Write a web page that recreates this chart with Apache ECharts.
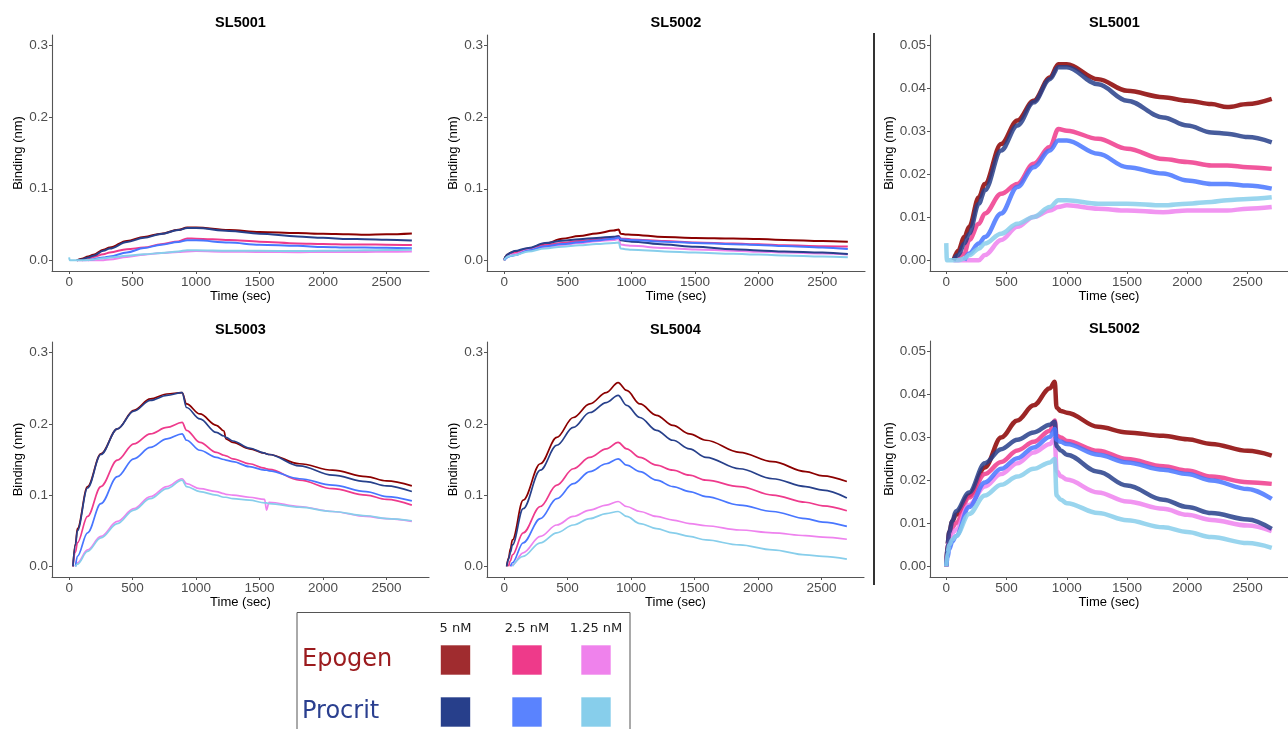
<!DOCTYPE html>
<html>
<head>
<meta charset="utf-8">
<script src="https://cdn.jsdelivr.net/npm/echarts@6/dist/echarts.min.js"></script>
<style>html,body{margin:0;padding:0;background:#fff}#c{width:1288px;height:729px}</style>
</head>
<body>
<div id="c"></div>
<script>
// ---- categories / labels ----
const drugs = ['Epogen', 'Procrit'];
const concs = ['5 nM', '2.5 nM', '1.25 nM'];
const panelTitles = ['SL5001', 'SL5002', 'SL5001', 'SL5003', 'SL5004', 'SL5002'];
const xTicks = [0, 500, 1000, 1500, 2000, 2500];
const yTicksBig = [0, 0.1, 0.2, 0.3];
const yTicksSmall = [0, 0.01, 0.02, 0.03, 0.04, 0.05];

// ---- colours (Epogen 5, 2.5, 1.25 ; Procrit 5, 2.5, 1.25) ----
const lineColors = ['#8b0000', '#ee3a8c', '#ee82ee', '#27408b', '#4876ff', '#87ceeb'];
const swatchColors = ['#a02c2f', '#ee3a8a', '#ef82ec', '#273f8b', '#5a83fe', '#87ceeb'];
const drugColors = ['#9b1b1e', '#2a3f8f'];

// ---- SL5001 ----
const T5001 = [0,5,60,100,150,190,270,320,455,590,725,860,930,1000,1260,1500,1800,2000,2200,2330,2500,2700];
const SL5001_E5   = [null,null,0,0.0023,0.0054,0.0078,0.0147,0.0178,0.0271,0.0326,0.0372,0.0426,0.0457,0.0457,0.0422,0.0395,0.038,0.0372,0.0364,0.0357,0.0364,0.0376];
const SL5001_E25  = [null,null,null,0,0.0016,0.0047,0.0085,0.0109,0.0155,0.0178,0.0225,0.0264,0.0306,0.0302,0.0283,0.026,0.0236,0.0229,0.0221,0.0221,0.0217,0.0213];
const SL5001_E125 = [null,null,0,0,0,0,0,0.0012,0.0047,0.0078,0.0101,0.0116,0.0124,0.0128,0.012,0.0116,0.0112,0.0116,0.0116,0.0116,0.012,0.0124];
const SL5001_P5   = [null,null,0,0.0012,0.0039,0.0062,0.0132,0.0163,0.0256,0.0314,0.0368,0.0422,0.045,0.045,0.041,0.0372,0.0333,0.0314,0.0298,0.0295,0.0287,0.0275];
const SL5001_P25  = [null,null,null,null,0,0.0016,0.0039,0.0054,0.0109,0.0171,0.0217,0.0256,0.0279,0.0279,0.0248,0.0217,0.0202,0.0186,0.0178,0.0178,0.0174,0.0167];
const SL5001_P125 = [0.004,0,0,0,0.0004,0.0012,0.0027,0.0039,0.0062,0.0085,0.0101,0.0124,0.014,0.014,0.0132,0.0132,0.0128,0.0132,0.0136,0.014,0.0143,0.0147];

// ---- SL5002 ----
const T5002 = [0,10,25,50,80,190,320,455,590,725,860,900,915,950,1000,1260,1500,1800,2000,2200,2500,2700];
const SL5002_E5   = [0,0.005,0.008,0.0105,0.012,0.0165,0.023,0.030,0.034,0.0375,0.0415,0.043,0.037,0.0362,0.0358,0.0325,0.0312,0.0304,0.0296,0.0285,0.0269,0.0258];
const SL5002_E25  = [0,0.004,0.007,0.009,0.0101,0.016,0.0215,0.0243,0.027,0.029,0.0316,0.034,0.0305,0.030,0.0292,0.0269,0.025,0.0233,0.0223,0.0209,0.0196,0.0192];
const SL5002_E125 = [0,0.004,0.006,0.0078,0.0085,0.0143,0.0186,0.0215,0.024,0.0265,0.0285,0.0298,0.0222,0.021,0.0202,0.0172,0.0151,0.0134,0.012,0.0108,0.0095,0.0082];
const SL5002_P5   = [0,0.005,0.008,0.0105,0.0128,0.0172,0.024,0.0273,0.0295,0.0312,0.033,0.0337,0.028,0.027,0.026,0.022,0.0188,0.0155,0.0138,0.0124,0.0109,0.0087];
const SL5002_P25  = [0,0.002,0.004,0.0058,0.007,0.0138,0.0195,0.0227,0.0252,0.0277,0.0302,0.032,0.0295,0.029,0.0285,0.026,0.0242,0.0225,0.0215,0.02,0.018,0.0157];
const SL5002_P125 = [0,0.003,0.005,0.0062,0.007,0.0122,0.0165,0.019,0.0209,0.0227,0.0242,0.025,0.0165,0.0155,0.0147,0.0124,0.0107,0.0091,0.008,0.0068,0.0054,0.0043];

// ---- SL5003 ----
const T5003 = [30,50,65,145,250,380,510,640,770,890,925,1030,1160,1220,1235,1290,1420,1540,1555,1575,1815,2075,2340,2500,2700];
const SL5003_E5   = [0,0.032,0.053,0.112,0.158,0.193,0.219,0.235,0.242,0.244,0.228,0.214,0.198,0.19,0.179,0.174,0.165,0.159,0.158,0.157,0.144,0.135,0.126,0.12,0.113];
const SL5003_E25  = [0,0.02,0.033,0.07,0.112,0.149,0.172,0.186,0.195,0.202,0.191,0.174,0.16,0.156,0.155,0.151,0.144,0.138,0.137,0.136,0.121,0.109,0.1,0.094,0.086];
const SL5003_E125 = [null,0,0.005,0.023,0.042,0.063,0.081,0.098,0.112,0.123,0.116,0.109,0.105,0.102,0.101,0.1,0.097,0.094,0.079,0.09,0.084,0.077,0.07,0.067,0.063];
const SL5003_P5   = [0,0.03,0.05,0.11,0.157,0.193,0.218,0.233,0.24,0.244,0.223,0.207,0.188,0.183,0.181,0.176,0.166,0.159,0.158,0.157,0.141,0.128,0.119,0.113,0.105];
const SL5003_P25  = [null,0,0.014,0.047,0.088,0.126,0.151,0.167,0.179,0.186,0.177,0.163,0.153,0.15,0.149,0.147,0.14,0.135,0.135,0.134,0.123,0.114,0.105,0.098,0.092];
const SL5003_P125 = [null,0,0.003,0.021,0.04,0.06,0.079,0.095,0.109,0.121,0.112,0.105,0.1,0.097,0.097,0.095,0.093,0.089,0.089,0.088,0.083,0.077,0.071,0.067,0.064];

// ---- SL5004 ----
const T5004 = [20,35,50,65,150,285,415,545,675,805,898,965,1070,1200,1330,1460,1590,1855,2115,2375,2510,2700];
const SL5004_E5   = [0,0.012,0.025,0.037,0.093,0.144,0.181,0.209,0.228,0.244,0.258,0.247,0.228,0.212,0.198,0.186,0.177,0.16,0.147,0.133,0.127,0.119];
const SL5004_E25  = [null,0,0.008,0.016,0.047,0.084,0.114,0.137,0.153,0.165,0.174,0.165,0.153,0.142,0.135,0.128,0.121,0.112,0.1,0.09,0.085,0.078];
const SL5004_E125 = [null,null,0,0.002,0.019,0.042,0.058,0.07,0.079,0.086,0.091,0.084,0.077,0.07,0.065,0.06,0.057,0.051,0.047,0.043,0.041,0.038];
const SL5004_P5   = [0,0.01,0.02,0.03,0.081,0.135,0.17,0.195,0.216,0.23,0.24,0.226,0.209,0.191,0.177,0.165,0.153,0.137,0.123,0.112,0.107,0.096];
const SL5004_P25  = [null,null,0,0.005,0.033,0.067,0.095,0.116,0.133,0.144,0.151,0.142,0.133,0.121,0.112,0.105,0.098,0.086,0.077,0.067,0.062,0.056];
const SL5004_P125 = [null,null,null,0,0.014,0.033,0.047,0.058,0.067,0.074,0.077,0.07,0.06,0.053,0.047,0.042,0.037,0.03,0.023,0.016,0.014,0.01];

const datasets = {
  SL5001: {t: T5001, s: [SL5001_E5, SL5001_E25, SL5001_E125, SL5001_P5, SL5001_P25, SL5001_P125]},
  SL5002: {t: T5002, s: [SL5002_E5, SL5002_E25, SL5002_E125, SL5002_P5, SL5002_P25, SL5002_P125]},
  SL5003: {t: T5003, s: [SL5003_E5, SL5003_E25, SL5003_E125, SL5003_P5, SL5003_P25, SL5003_P125]},
  SL5004: {t: T5004, s: [SL5004_E5, SL5004_E25, SL5004_E125, SL5004_P5, SL5004_P25, SL5004_P125]}
};

// ---- layout ----
const panels = [
  {key: 'SL5001', left: 52,  top: 35,  width: 377, height: 236, big: true,  lw: 2},
  {key: 'SL5002', left: 487, top: 35,  width: 378, height: 236, big: true,  lw: 2},
  {key: 'SL5001', left: 930, top: 35,  width: 369, height: 236, big: false, lw: 4.5},
  {key: 'SL5003', left: 52,  top: 342, width: 377, height: 235, big: true,  lw: 1.7},
  {key: 'SL5004', left: 487, top: 342, width: 377, height: 235, big: true,  lw: 1.7},
  {key: 'SL5002', left: 930, top: 341, width: 369, height: 236, big: false, lw: 4.5}
];

const axisColor = '#555';
const labelColor = '#4d4d4d';
const FONT = '"Liberation Sans", Arial, Helvetica, sans-serif';

const grid = [], xAxis = [], yAxis = [], series = [], title = [];
panels.forEach((p, i) => {
  grid.push({left: p.left, top: p.top, width: p.width, height: p.height, containLabel: false});
  title.push({
    text: panelTitles[i], left: p.left + p.width / 2, top: p.top - 20,
    textAlign: 'center', padding: 0,
    textStyle: {fontFamily: FONT, fontWeight: 'bold', fontSize: 14.5, color: '#000'}
  });
  xAxis.push({
    type: 'value', gridIndex: i, min: -135, max: 2835,
    name: 'Time (sec)', nameLocation: 'middle', nameGap: 19,
    nameTextStyle: {fontFamily: FONT, fontSize: 13, color: '#000'},
    axisLine: {show: true, onZero: false, lineStyle: {color: axisColor, width: 1.1}},
    axisTick: {show: true, length: 3, lineStyle: {color: axisColor}, customValues: xTicks},
    axisLabel: {fontFamily: FONT, fontSize: 13.5, color: labelColor, margin: 4, customValues: xTicks,
      formatter: v => String(v)},
    splitLine: {show: false}
  });
  const yt = p.big ? yTicksBig : yTicksSmall;
  yAxis.push({
    type: 'value', gridIndex: i,
    min: p.big ? -0.015 : -0.0025, max: p.big ? 0.315 : 0.0525,
    name: 'Binding (nm)', nameLocation: 'middle', nameGap: p.big ? 25 : 32, nameRotate: 90,
    nameTextStyle: {fontFamily: FONT, fontSize: 13, color: '#000'},
    axisLine: {show: true, onZero: false, lineStyle: {color: axisColor, width: 1.1}},
    axisTick: {show: true, length: 3, lineStyle: {color: axisColor}, customValues: yt},
    axisLabel: {fontFamily: FONT, fontSize: 13.5, color: labelColor, margin: 4, customValues: yt,
      formatter: v => v.toFixed(p.big ? 1 : 2)},
    splitLine: {show: false}
  });
  const d = datasets[p.key];
  d.s.forEach((vals, k) => {
    const pts = [];
    d.t.forEach((t, j) => { if (vals[j] !== null) pts.push([t, vals[j]]); });
    series.push({
      type: 'line', xAxisIndex: i, yAxisIndex: i, data: pts,
      showSymbol: false, smooth: 0.35, smoothMonotone: 'x',
      lineStyle: {color: lineColors[k], width: p.lw, opacity: p.big ? 1 : 0.85},
      itemStyle: {color: lineColors[k]}, silent: true, z: 2 + k
    });
  });
});

// ---- custom legend box + separator ----
const graphic = [
  {type: 'line', shape: {x1: 874, y1: 33, x2: 874, y2: 585}, style: {stroke: '#333', lineWidth: 2}},
  {type: 'rect', shape: {x: 297, y: 612.5, width: 333, height: 140}, style: {fill: 'none', stroke: '#555', lineWidth: 1}}
];
const colX = [455.5, 527, 596];
concs.forEach((c, j) => {
  graphic.push({type: 'text', x: colX[j], y: 628.5, style: {text: c, fill: '#222', font: '13px "DejaVu Sans"', textAlign: 'center', textVerticalAlign: 'middle'}});
});
const rowY = [660, 712];
drugs.forEach((dn, r) => {
  graphic.push({type: 'text', x: 302, y: rowY[r], style: {text: dn, fill: drugColors[r], font: '24px "DejaVu Sans"', textAlign: 'left', textVerticalAlign: 'middle'}});
  concs.forEach((c, j) => {
    graphic.push({type: 'rect', shape: {x: colX[j] - 15, y: rowY[r] - 15, width: 30, height: 30},
      style: {fill: swatchColors[r * 3 + j], stroke: 'rgba(255,255,255,0.6)', lineWidth: 1}});
  });
});

const chart = echarts.init(document.getElementById('c'), null, {renderer: 'canvas'});
chart.setOption({
  animation: false, backgroundColor: '#fff',
  title, grid, xAxis, yAxis, series, graphic
});
</script>
</body>
</html>
